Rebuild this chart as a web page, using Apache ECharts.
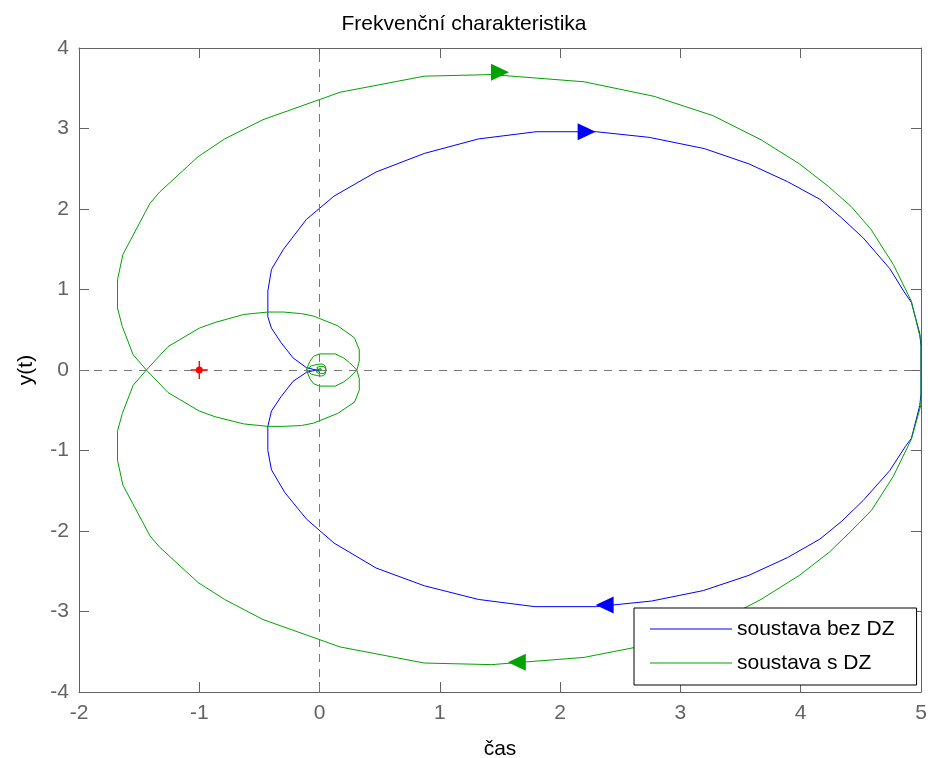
<!DOCTYPE html>
<html>
<head>
<meta charset="utf-8">
<script src="https://cdn.jsdelivr.net/npm/echarts@6/dist/echarts.min.js"></script>
<style>
  html, body { margin: 0; padding: 0; background: #fff; }
  #chart { width: 928px; height: 758px; }
</style>
</head>
<body>
<div id="chart"></div>
<script>
// Nyquist curves as [Re, Im] vertices.
// "Neg" branch: omega < 0 (upper half), runs from the origin to the static gain.
// "Pos" branch: omega > 0 (lower half), runs from the static gain back to the origin.
const bezDzNeg = [
  [0.00, 0.00], [-0.03, 0.00], [-0.11, 0.03], [-0.22, 0.15], [-0.32, 0.34], [-0.40, 0.52],
  [-0.43, 0.66], [-0.43, 0.98], [-0.40, 1.25], [-0.30, 1.50], [-0.11, 1.87], [0.12, 2.16],
  [0.47, 2.46], [0.87, 2.69], [1.32, 2.87], [1.80, 2.96], [2.30, 2.96], [2.74, 2.89],
  [3.20, 2.75], [3.57, 2.56], [3.89, 2.34], [4.16, 2.12], [4.34, 1.89], [4.52, 1.64],
  [4.74, 1.26], [4.86, 0.97], [4.92, 0.84], [4.99, 0.45], [5.00, 0.29], [5.00, 0.00]
];
const bezDzPos = [
  [5.00, 0.00], [5.00, -0.29], [4.99, -0.44], [4.92, -0.85], [4.87, -0.95], [4.74, -1.25],
  [4.52, -1.62], [4.34, -1.88], [4.16, -2.10], [3.89, -2.33], [3.57, -2.55], [3.19, -2.74],
  [2.76, -2.87], [2.30, -2.94], [1.79, -2.94], [1.32, -2.85], [0.87, -2.68], [0.47, -2.46],
  [0.12, -2.15], [-0.11, -1.85], [-0.29, -1.52], [-0.40, -1.24], [-0.43, -1.00], [-0.43, -0.70],
  [-0.40, -0.51], [-0.32, -0.33], [-0.22, -0.14], [-0.11, -0.03], [-0.03, 0.00], [0.00, 0.00]
];
const sDzNeg = [
  [0.00, 0.00], [0.01, 0.01], [0.02, 0.00], [0.01, -0.02], [-0.015, -0.02], [-0.03, 0.00],
  [-0.02, 0.035], [0.01, 0.045], [0.04, 0.04], [0.055, 0.00], [0.045, -0.055], [0.02, -0.075],
  [-0.02, -0.07], [-0.07, -0.05], [-0.11, 0.00], [-0.08, 0.11], [-0.05, 0.17], [0.00, 0.20],
  [0.13, 0.20], [0.20, 0.15], [0.25, 0.09], [0.31, 0.00], [0.33, -0.11], [0.33, -0.25],
  [0.29, -0.40], [0.15, -0.54], [-0.05, -0.66], [-0.15, -0.69], [-0.30, -0.70], [-0.43, -0.70],
  [-0.63, -0.67], [-0.87, -0.58], [-1.00, -0.51], [-1.26, -0.28], [-1.44, 0.00], [-1.55, 0.19],
  [-1.64, 0.54], [-1.68, 0.77], [-1.68, 1.12], [-1.635, 1.435], [-1.41, 2.07], [-1.33, 2.21],
  [-1.01, 2.65], [-0.79, 2.87], [-0.47, 3.11], [0.17, 3.45], [0.87, 3.65], [1.43, 3.67],
  [2.20, 3.58], [2.78, 3.40], [3.27, 3.16], [3.67, 2.86], [3.99, 2.56], [4.23, 2.28],
  [4.42, 2.03], [4.585, 1.745], [4.77, 1.31], [4.92, 0.855], [5.00, 0.36], [5.00, 0.00]
];
const sDzPos = [
  [5.00, 0.00], [5.00, -0.43], [4.92, -0.86], [4.77, -1.32], [4.59, -1.74], [4.42, -2.00],
  [4.24, -2.26], [3.99, -2.55], [3.67, -2.85], [3.27, -3.16], [2.78, -3.40], [2.20, -3.57],
  [1.43, -3.66], [0.87, -3.64], [0.17, -3.44], [-0.47, -3.10], [-0.79, -2.85], [-1.01, -2.64],
  [-1.33, -2.20], [-1.41, -2.06], [-1.635, -1.43], [-1.68, -1.12], [-1.68, -0.76], [-1.64, -0.54],
  [-1.55, -0.19], [-1.44, 0.00], [-1.26, 0.29], [-1.00, 0.52], [-0.87, 0.59], [-0.63, 0.69],
  [-0.43, 0.72], [-0.30, 0.72], [-0.15, 0.70], [-0.05, 0.67], [0.15, 0.55], [0.29, 0.40],
  [0.33, 0.25], [0.33, 0.11], [0.31, 0.00], [0.25, -0.09], [0.20, -0.15], [0.13, -0.20],
  [0.00, -0.20], [-0.05, -0.17], [-0.08, -0.11], [-0.11, 0.00], [-0.07, 0.05], [-0.02, 0.07],
  [0.02, 0.075], [0.045, 0.055], [0.055, 0.00], [0.04, -0.04], [0.01, -0.045], [-0.02, -0.035],
  [-0.03, 0.00], [-0.015, 0.02], [0.01, 0.02], [0.02, 0.00], [0.01, -0.01], [0.00, 0.00]
];

// Direction arrows on each curve: [Re, Im, heading]
const arrowsBezDz = [[2.22, 2.96, 'right'], [2.37, -2.92, 'left']];
const arrowsSDz = [[1.50, 3.70, 'right'], [1.64, -3.63, 'left']];

// Critical point -1 + 0j
const criticalPoint = [[-1, 0]];

const seriesNames = ['soustava bez DZ', 'soustava s DZ'];
const xRange = [-2, 5];
const yRange = [-4, 4];

const FONT = '"Liberation Sans", Arial, Helvetica, sans-serif';
const AXIS_GREY = '#636363';
const BLUE = '#0000ff';
const GREEN = '#00a300';

const heading = { right: -90, left: 90 };
function arrowData(list) {
  return list.map(a => ({ value: [a[0], a[1]], symbolRotate: heading[a[2]] }));
}

const axisCommon = {
  type: 'value',
  axisLine: { show: true, onZero: false, lineStyle: { color: AXIS_GREY, width: 1 } },
  axisTick: { show: true, inside: true, length: 10, lineStyle: { color: AXIS_GREY } },
  splitLine: { show: false }
};

const chart = echarts.init(document.getElementById('chart'), null, { renderer: 'canvas' });
chart.setOption({
  animation: false,
  backgroundColor: '#ffffff',
  title: {
    text: 'Frekvenční charakteristika',
    left: 'center',
    top: 9,
    textStyle: { fontFamily: FONT, fontSize: 21, fontWeight: 'normal', color: '#000' }
  },
  grid: { left: 79, right: 7, top: 48, bottom: 66, containLabel: false, outerBoundsMode: 'none' },
  xAxis: [
    Object.assign({}, axisCommon, {
      min: xRange[0], max: xRange[1], interval: 1, position: 'bottom',
      axisLabel: { color: AXIS_GREY, fontFamily: FONT, fontSize: 21, margin: 11 },
      name: 'čas', nameLocation: 'middle', nameGap: 47,
      nameTextStyle: { color: '#000', fontFamily: FONT, fontSize: 21 }
    }),
    Object.assign({}, axisCommon, {
      min: xRange[0], max: xRange[1], interval: 1, position: 'top',
      axisLabel: { show: false }
    })
  ],
  yAxis: [
    Object.assign({}, axisCommon, {
      min: yRange[0], max: yRange[1], interval: 1, position: 'left',
      axisLabel: { color: AXIS_GREY, fontFamily: FONT, fontSize: 21, margin: 10 },
      name: 'y(t)', nameLocation: 'middle', nameGap: 42, nameRotate: 90,
      nameTextStyle: { color: '#000', fontFamily: FONT, fontSize: 21 }
    }),
    Object.assign({}, axisCommon, {
      min: yRange[0], max: yRange[1], interval: 1, position: 'right',
      axisLabel: { show: false }
    })
  ],
  legend: {
    data: seriesNames,
    orient: 'vertical',
    left: 634,
    top: 608,
    padding: [9, 22, 10, 16],
    icon: 'rect',
    itemWidth: 82,
    itemHeight: 1,
    itemGap: 10,
    backgroundColor: '#fff',
    borderColor: '#000',
    borderWidth: 1,
    borderRadius: 0,
    textStyle: { fontFamily: FONT, fontSize: 21, color: '#000', lineHeight: 24 }
  },
  series: [
    {
      name: seriesNames[0],
      type: 'line',
      data: bezDzNeg.concat(bezDzPos.slice(1)),
      showSymbol: false,
      symbol: 'none',
      lineStyle: { color: BLUE, width: 1 },
      itemStyle: { color: BLUE },
      z: 3,
      markLine: {
        silent: true,
        symbol: ['none', 'none'],
        label: { show: false },
        lineStyle: { color: '#777', width: 1, type: [8, 7] },
        data: [{ xAxis: 0 }, { yAxis: 0 }]
      }
    },
    {
      name: seriesNames[1],
      type: 'line',
      data: sDzNeg.concat(sDzPos.slice(1)),
      showSymbol: false,
      symbol: 'none',
      lineStyle: { color: GREEN, width: 1 },
      itemStyle: { color: GREEN },
      z: 3
    },
    {
      name: 'směr bez DZ',
      type: 'scatter',
      data: arrowData(arrowsBezDz),
      symbol: 'triangle',
      symbolSize: [17, 18],
      itemStyle: { color: BLUE, opacity: 1 },
      z: 4
    },
    {
      name: 'směr s DZ',
      type: 'scatter',
      data: arrowData(arrowsSDz),
      symbol: 'triangle',
      symbolSize: [17, 18],
      itemStyle: { color: GREEN, opacity: 1 },
      z: 4
    },
    {
      name: 'kritický bod kříž',
      type: 'scatter',
      data: criticalPoint,
      symbol: 'path://M0.46,0 L0.54,0 L0.54,1 L0.46,1 Z M0,0.46 L1,0.46 L1,0.54 L0,0.54 Z',
      symbolSize: [17, 18],
      itemStyle: { color: '#ff0000', opacity: 1 },
      z: 5
    },
    {
      name: 'kritický bod',
      type: 'scatter',
      data: criticalPoint,
      symbol: 'circle',
      symbolSize: 7,
      itemStyle: { color: '#ff0000', opacity: 1 },
      z: 5
    }
  ]
});
</script>
</body>
</html>
